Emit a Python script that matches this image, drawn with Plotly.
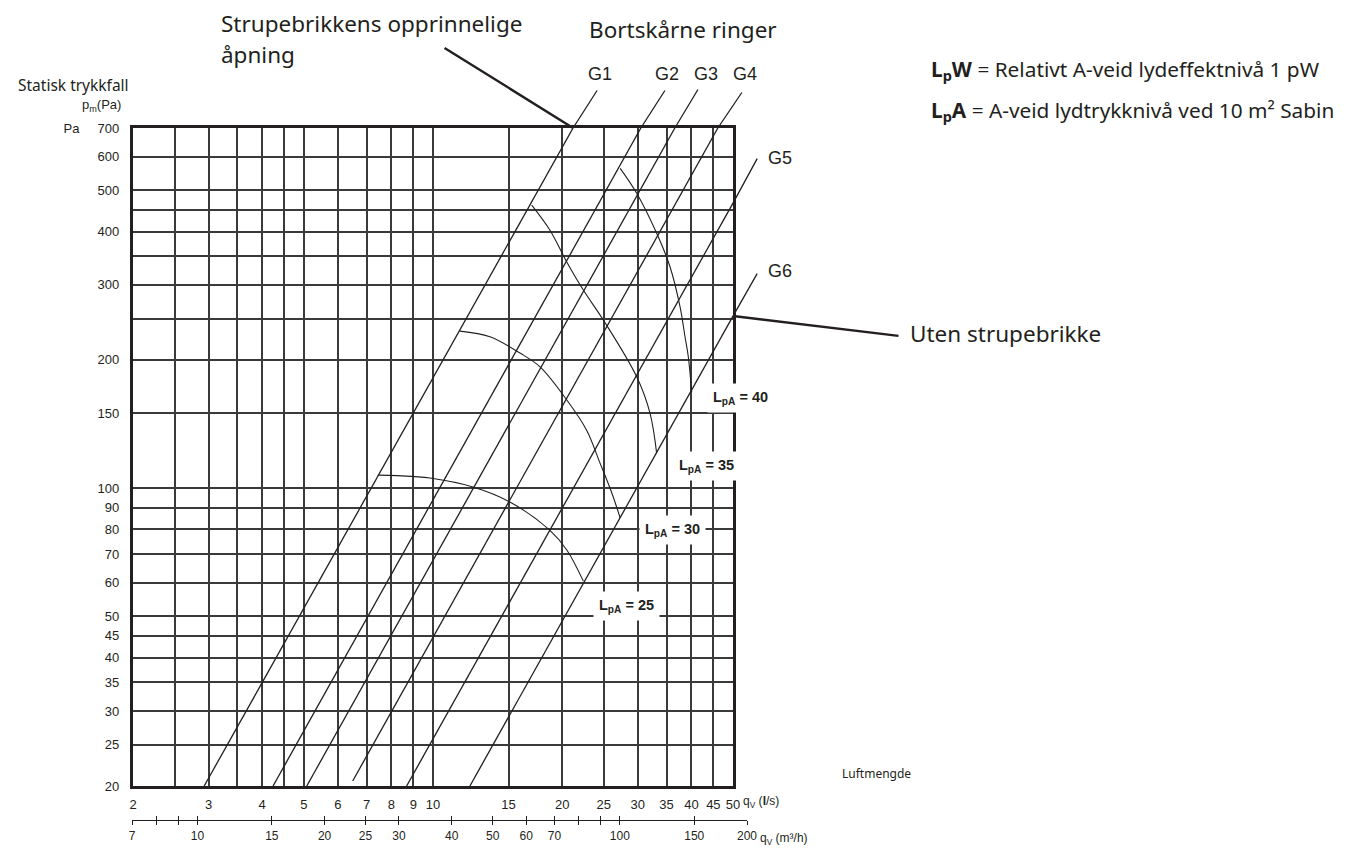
import numpy as np
import plotly.graph_objects as go

# ---------------- data ----------------
# primary x axis: air flow q_v (l/s)
x_tickvals = [2, 2.5, 3, 3.5, 4, 4.5, 5, 6, 7, 8, 9, 10, 15, 20, 25, 30, 35, 40, 45, 50]
x_ticktext = ["2", "", "3", "", "4", "", "5", "6", "7", "8", "9", "10",
              "15", "20", "25", "30", "35", "40", "45", "50"]
# y axis: static pressure drop p_m (Pa)
y_tickvals = [20, 25, 30, 35, 40, 45, 50, 60, 70, 80, 90, 100, 150, 200,
              250, 300, 350, 400, 450, 500, 600, 700]
y_ticktext = ["20", "25", "30", "35", "40", "45", "50", "60", "70", "80", "90",
              "100", "150", "200", "", "300", "", "400", "", "500", "600",
              "Pa\u00a0\u00a0\u00a0\u00a0\u00a0700"]
# secondary x axis: air flow (m3/h)
x2_tickvals = [7, 8, 9, 10, 15, 20, 25, 30, 40, 50, 60, 70, 80, 90, 100, 150, 200]
x2_ticktext = ["7", "", "", "10", "15", "20", "25", "30", "40", "50", "60", "70",
               "", "", "100", "150", "200"]

# throttle ring lines G1..G6 (start / end points)
g_names = ["G1", "G2", "G3", "G4", "G5", "G6"]
g_q = [[2.93, 21.2], [4.24, 30.5], [5.08, 36.6], [6.5, 46.1], [8.68, 50.0], [12.19, 50.0]]
g_p = [[20, 700], [20, 700], [20, 700], [20.55, 700], [20, 466.6], [20, 253.4]]

# sound pressure level curves L_pA
lpa_levels = [25, 30, 35, 40]
lpa25_q = [7.44, 8.24, 9.84, 12.39, 15.1, 18.7, 20.5, 22.4]
lpa25_p = [107.3, 107.0, 105.6, 100.6, 92.8, 79.7, 71.6, 60.5]
lpa30_q = [11.56, 13.57, 15.94, 17.76, 20.5, 22.8, 24.5, 26.1, 27.3]
lpa30_p = [233.6, 226.6, 207.5, 192.6, 161.0, 136.8, 114.5, 97.4, 85.1]
lpa35_q = [16.98, 18.73, 20.48, 22.4, 24.94, 29.83, 32.03, 33.2]
lpa35_p = [461.6, 403.0, 339.9, 291.6, 248.0, 182.5, 150.0, 120.7]
lpa40_q = [27.3, 29.83, 33.2, 35.66, 37.63, 38.65, 39.34, 40.06]
lpa40_p = [562.7, 491.8, 396.2, 330.8, 266.6, 226.6, 203.4, 168.0]

# ---------------- layout helpers ----------------
W, H = 1349, 850
OFF = 8  # page body margin: figure origin sits at (8, 8) on screen
L, R, T, B = 112, 598, 120, 28
PW = W - L - R
PH = H - T - B


def px(x):
    """screen x (pixels) -> paper fraction"""
    return (x - OFF - L) / PW


def py(y):
    """screen y (pixels) -> paper fraction"""
    return (H - B - (y - OFF)) / PH


INK = "#231f20"
ARIAL = "Liberation Sans, Arial, sans-serif"
DIN = "Noto Sans, sans-serif"

fig = go.Figure()

for name, q, p in zip(g_names, g_q, g_p):
    fig.add_trace(go.Scatter(x=q, y=p, mode="lines", name=name,
                             line=dict(color=INK, width=1.3),
                             hoverinfo="skip", showlegend=False))

for lv, q, p in zip(lpa_levels,
                    [lpa25_q, lpa30_q, lpa35_q, lpa40_q],
                    [lpa25_p, lpa30_p, lpa35_p, lpa40_p]):
    fig.add_trace(go.Scatter(x=q, y=p, mode="lines", name=f"LpA {lv}",
                             line=dict(color=INK, width=1.1, shape="spline", smoothing=1.0),
                             hoverinfo="skip", showlegend=False))

# invisible carriers for the secondary (m3/h) axis
fig.add_trace(go.Scatter(x=[x2_tickvals[0], x2_tickvals[-1]], y=[1, 1], xaxis="x2", yaxis="y3",
                         mode="markers", marker=dict(opacity=0), hoverinfo="skip", showlegend=False))
fig.add_trace(go.Scatter(x=[x2_tickvals[0], x2_tickvals[-1]], y=[1, 1], xaxis="x4", yaxis="y3",
                         mode="markers", marker=dict(opacity=0), hoverinfo="skip", showlegend=False))

grid_common = dict(showgrid=True, gridcolor="#3a3a3a", gridwidth=1.5, zeroline=False,
                   showline=True, mirror=True, linecolor=INK, linewidth=3.4, ticks="",
                   automargin=False,
                   tickfont=dict(family=ARIAL, size=13, color=INK))

x2_pos = py(820)
fig.update_layout(
    width=W, height=H,
    margin=dict(l=L, r=R, t=T, b=B, autoexpand=False),
    paper_bgcolor="white", plot_bgcolor="rgba(0,0,0,0)",
    showlegend=False,
    xaxis=dict(type="log", range=[np.log10(2), np.log10(50)], domain=[px(133), px(733)],
               tickmode="array", tickvals=x_tickvals, ticktext=x_ticktext, anchor="y",
               ticklabelstandoff=4, **grid_common),
    yaxis=dict(type="log", range=[np.log10(20), np.log10(700)], domain=[py(786), py(128)],
               tickmode="array", tickvals=y_tickvals, ticktext=y_ticktext, anchor="x",
               ticklabelstandoff=8, **grid_common),
    xaxis2=dict(type="log", range=[np.log10(7), np.log10(200)], domain=[px(132), px(747)],
                anchor="free", position=x2_pos, showgrid=False, zeroline=False,
                showline=True, linecolor=INK, linewidth=1.2, automargin=False,
                ticks="outside", ticklen=4, tickwidth=1.2, tickcolor=INK,
                tickmode="array", tickvals=x2_tickvals, ticktext=x2_ticktext,
                tickfont=dict(family=ARIAL, size=12, color=INK)),
    xaxis4=dict(type="log", range=[np.log10(7), np.log10(200)], overlaying="x2",
                anchor="free", position=x2_pos, showgrid=False, zeroline=False,
                showline=False, ticks="inside", ticklen=4, tickwidth=1.2, tickcolor=INK,
                automargin=False,
                tickmode="array", tickvals=x2_tickvals, showticklabels=False),
    yaxis3=dict(domain=[0, 0.005], visible=False, anchor="x2", range=[0, 2]),
)

ann = []


def text(s, x, y, xanchor="left", size=13, family=ARIAL, **kw):
    ann.append(dict(text=s, x=px(x), y=py(y), xref="paper", yref="paper",
                    xanchor=xanchor, yanchor="middle", showarrow=False,
                    font=dict(family=family, size=size, color=INK), **kw))


def leader(q, p, ax, ay, width=1.3):
    fx = np.log10(q) - (1e-6 if q >= 50 else 0)
    fy = np.log10(p) - (1e-6 if p >= 700 else 0)
    ann.append(dict(text="", x=fx, y=fy, xref="x", yref="y", ax=ax, ay=ay,
                    showarrow=True, arrowhead=0, arrowwidth=width, arrowcolor=INK,
                    standoff=0, startstandoff=0))


# leaders from the G lines to their labels
g_offsets = [(25, -39), (25, -39), (24, -40), (25, -37), (25, -46), (25, -44)]
g_label_pos = [(600, 74), (667, 74), (706, 74), (745, 74), (780, 158), (780, 271)]
for name, q, p, off, pos in zip(g_names, g_q, g_p, g_offsets, g_label_pos):
    leader(q[1], p[1], off[0], off[1])
    text(name, pos[0], pos[1], xanchor="center", size=18)

# pointer: original throttle opening -> G1, without throttle -> G6
leader(g_q[0][1], g_p[0][1], -130, -81, width=2.4)
leader(g_q[5][1], g_p[5][1], 167, 20, width=2.4)

text("Strupebrikkens opprinnelige", 219, 23, size=22.5, family=DIN)
text("åpning", 219, 54, size=22.5, family=DIN)
text("Bortskårne ringer", 587, 30, size=22.5, family=DIN)
text("Uten strupebrikke", 908, 333, size=22.5, family=DIN)
text("Statisk trykkfall", 131, 85, xanchor="right", size=15.5, family=DIN)
text("p<sub>m</sub>(Pa)", 123, 106, xanchor="right", size=13)
text("Luftmengde", 840, 773, size=12, family=DIN)
text("q<sub>V</sub> (<b>l</b>/s)", 741, 802, size=12)
text("q<sub>V</sub> (m³/h)", 758, 839, size=12)
text("<b>L<sub>p</sub>W</b> = Relativt A-veid lydeffektnivå 1 pW", 929, 70, size=20.8, family=DIN)
text("<b>L<sub>p</sub>A</b> = A-veid lydtrykknivå ved 10 m² Sabin", 929, 111, size=20.8, family=DIN)

# L_pA labels with white boxes
lpa_label_pos = [(626, 606), (672, 530), (706, 466), (740, 398)]
for lv, pos in zip(lpa_levels, lpa_label_pos):
    text(f"<b>L<sub>pA</sub> = {lv}</b>", pos[0], pos[1], xanchor="center", size=14.5,
         bgcolor="white", borderpad=5)

fig.update_layout(annotations=ann)
fig.write_html("out.html")
